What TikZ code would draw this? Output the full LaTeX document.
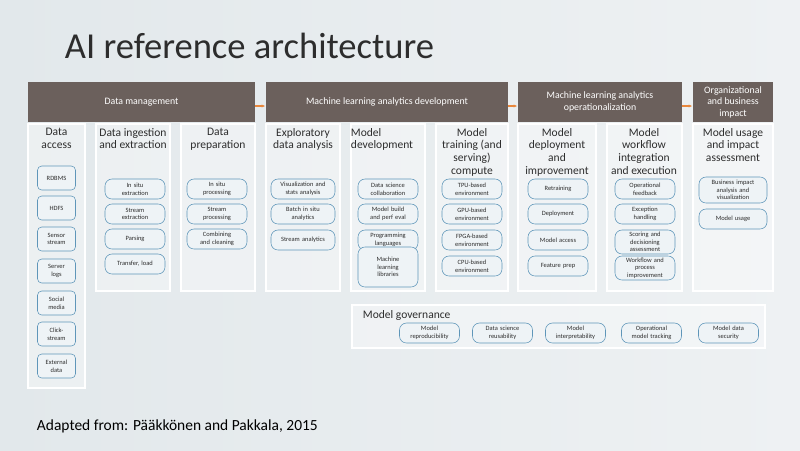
\documentclass[tikz,border=0pt]{standalone}
\usepackage{fontspec}
\setmainfont{Carlito}
\usetikzlibrary{arrows.meta}
\definecolor{archbar}{RGB}{107, 96, 92}
\definecolor{archbg}{RGB}{226, 232, 235}
\definecolor{archbgr}{RGB}{238, 241, 243}
\definecolor{archpill}{RGB}{95, 150, 185}
\definecolor{archpillfill}{RGB}{238, 243, 246}
\definecolor{archtext}{RGB}{45, 45, 45}
\definecolor{archarrow}{RGB}{232, 135, 60}
\tikzset{
  bar/.style={fill=archbar, draw=none, text=white, align=center,
    font=\fontsize{7}{8.2}\selectfont},
  column/.style={fill=white, fill opacity=0.35, draw=white, line width=0.8pt},
  colhead/.style={anchor=north, align=center, text=archtext,
    font=\fontsize{8.2}{9}\selectfont, inner sep=0pt},
  pill/.style={draw=archpill, fill=archpillfill, rounded corners=5pt, thin,
    align=center, text=archtext, inner sep=1pt,
    font=\fontsize{4.6}{5.4}\selectfont, minimum width=#1, text width=#1-4pt},
  pill/.default=1.5cm,
  barrow/.style={-{Latex[length=3pt]}, archarrow, line width=1pt}
}
\begin{document}
\begin{tikzpicture}[x=0.025cm, y=-0.025cm]
    % Background
    \useasboundingbox (0,0) rectangle (800,450);
    \shade[left color=archbg, right color=archbgr] (0,0) rectangle (800,450);

    % Title
    \node[anchor=base west, text=archtext, font=\fontsize{26}{30}\selectfont] (title) at (60,58) {AI reference architecture};

    % Top bars
    \node[bar, minimum width=227*0.025cm, minimum height=40*0.025cm] (dm) at (141.5,102) {Data management};
    \node[bar, minimum width=242*0.025cm, minimum height=40*0.025cm] (mld) at (387,102) {Machine learning analytics development};
    \node[bar, minimum width=164*0.025cm, minimum height=40*0.025cm] (mlo) at (600,102) {Machine learning analytics\\operationalization};
    \node[bar, minimum width=80*0.025cm, minimum height=40*0.025cm, inner sep=1pt] (org) at (733,102) {Organizational\\and business\\impact};
    \draw[barrow] (dm.east |- 0,106) -- (mld.west |- 0,106);
    \draw[barrow] (mld.east |- 0,106) -- (mlo.west |- 0,106);
    \draw[barrow] (mlo.east |- 0,106) -- (org.west |- 0,106);

    % Columns
    \draw[column] (28,124) rectangle (85,388);
    \draw[column] (96,124) rectangle (170,291);
    \draw[column] (181,124) rectangle (255,291);
    \draw[column] (266,124) rectangle (340,291);
    \draw[column] (351,124) rectangle (425,291);
    \draw[column] (436,124) rectangle (508,291);
    \draw[column] (518,124) rectangle (596,291);
    \draw[column] (607,124) rectangle (682,291);
    \draw[column] (693,124) rectangle (773,291);
    \draw[column] (352,305) rectangle (765,348);

    % Column headers
    \node[colhead] (hda) at (56.5,128) {Data\\access};
    \node[colhead] (hdi) at (133,128) {Data ingestion\\and extraction};
    \node[colhead] (hdp) at (218,128) {Data\\preparation};
    \node[colhead] (hed) at (303,128) {Exploratory\\data analysis};
    \node[colhead, align=left] (hmd) at (382,128) {Model\\development};
    \node[colhead] (hmt) at (472,128) {Model\\training (and\\serving)\\compute};
    \node[colhead] (hmp) at (557,128) {Model\\deployment\\and\\improvement};
    \node[colhead] (hmw) at (644,128) {Model\\workflow\\integration\\and execution};
    \node[colhead] (hmu) at (733,128) {Model usage\\and impact\\assessment};

    % Data access
    \node[pill=0.95cm, minimum height=0.6cm, rounded corners=3pt] (rdbms) at (56.5,178) {RDBMS};
    \node[pill=0.95cm, minimum height=0.6cm, rounded corners=3pt] (hdfs) at (56.5,208) {HDFS};
    \node[pill=0.95cm, minimum height=0.6cm, rounded corners=3pt] (sensor) at (56.5,239) {Sensor\\stream};
    \node[pill=0.95cm, minimum height=0.6cm, rounded corners=3pt] (logs) at (56.5,271) {Server\\logs};
    \node[pill=0.95cm, minimum height=0.6cm, rounded corners=3pt] (social) at (56.5,303) {Social\\media};
    \node[pill=0.95cm, minimum height=0.6cm, rounded corners=3pt] (click) at (56.5,334) {Click-\\stream};
    \node[pill=0.95cm, minimum height=0.6cm, rounded corners=3pt] (ext) at (56.5,366) {External\\data};

    % Data ingestion and extraction
    \node[pill, minimum height=0.5cm] (insitux) at (135,189) {In situ\\extraction};
    \node[pill, minimum height=0.5cm] (streamx) at (135,214) {Stream\\extraction};
    \node[pill, minimum height=0.5cm] (parsing) at (135,239) {Parsing};
    \node[pill, minimum height=0.5cm] (load) at (135,264) {Transfer, load};

    % Data preparation
    \node[pill, minimum height=0.5cm] (insitup) at (217,189) {In situ\\processing};
    \node[pill, minimum height=0.5cm] (streamp) at (217,214) {Stream\\processing};
    \node[pill, minimum height=0.5cm] (combine) at (217,239) {Combining\\and cleaning};

    % Exploratory data analysis
    \node[pill=1.6cm, minimum height=0.5cm] (vis) at (303,189) {Visualization and\\stats analysis};
    \node[pill=1.6cm, minimum height=0.5cm] (batch) at (303,214) {Batch in situ\\analytics};
    \node[pill=1.6cm, minimum height=0.5cm] (streama) at (303,240) {Stream analytics};

    % Model development
    \node[pill, minimum height=0.5cm] (collab) at (388,189) {Data science\\collaboration};
    \node[pill, minimum height=0.5cm] (build) at (388,214) {Model build\\and perf eval};
    \node[pill, minimum height=0.5cm] (prog) at (388,240) {Programming\\languages};
    \node[pill, minimum height=1cm] (libs) at (388,267) {Machine\\learning\\libraries};

    % Model training compute
    \node[pill, minimum height=0.5cm] (tpu) at (472,189) {TPU-based\\environment};
    \node[pill, minimum height=0.5cm] (gpu) at (472,214) {GPU-based\\environment};
    \node[pill, minimum height=0.5cm] (fpga) at (472,240) {FPGA-based\\environment};
    \node[pill, minimum height=0.5cm] (cpu) at (472,266) {CPU-based\\environment};

    % Model deployment and improvement
    \node[pill, minimum height=0.5cm] (retrain) at (558,189) {Retraining};
    \node[pill, minimum height=0.5cm] (deploy) at (558,214) {Deployment};
    \node[pill, minimum height=0.5cm] (access) at (558,240) {Model access};
    \node[pill, minimum height=0.5cm] (feature) at (558,266) {Feature prep};

    % Model workflow integration and execution
    \node[pill=1.5cm, minimum height=0.5cm] (feedback) at (645,189) {Operational\\feedback};
    \node[pill=1.5cm, minimum height=0.5cm] (exception) at (645,214) {Exception\\handling};
    \node[pill=1.5cm, minimum height=0.6cm] (scoring) at (645,242) {Scoring and\\decisioning\\assessment};
    \node[pill=1.5cm, minimum height=0.6cm] (workflow) at (645,268) {Workflow and\\process\\improvement};

    % Model usage and impact assessment
    \node[pill=1.7cm, minimum height=0.65cm] (impact) at (733,190) {Business impact\\analysis and\\visualization};
    \node[pill=1.7cm, minimum height=0.5cm] (usage) at (733,219) {Model usage};

    % Model governance
    \node[anchor=base west, text=archtext, font=\fontsize{8.2}{9}\selectfont] (gov) at (358,318) {Model governance};
    \node[pill, minimum height=0.5cm] (repro) at (429.5,333) {Model\\reproducibility};
    \node[pill, minimum height=0.5cm] (reuse) at (502.5,333) {Data science\\reusability};
    \node[pill, minimum height=0.5cm] (interp) at (575.5,333) {Model\\interpretability};
    \node[pill, minimum height=0.5cm] (track) at (651.5,333) {Operational\\model tracking};
    \node[pill, minimum height=0.5cm] (secure) at (728.5,333) {Model data\\security};

    % Source
    \node[anchor=base west, text=black, font=\fontsize{11}{13}\selectfont] (src) at (32,430) {Adapted from: Pääkkönen and Pakkala, 2015};
\end{tikzpicture}
\end{document}
